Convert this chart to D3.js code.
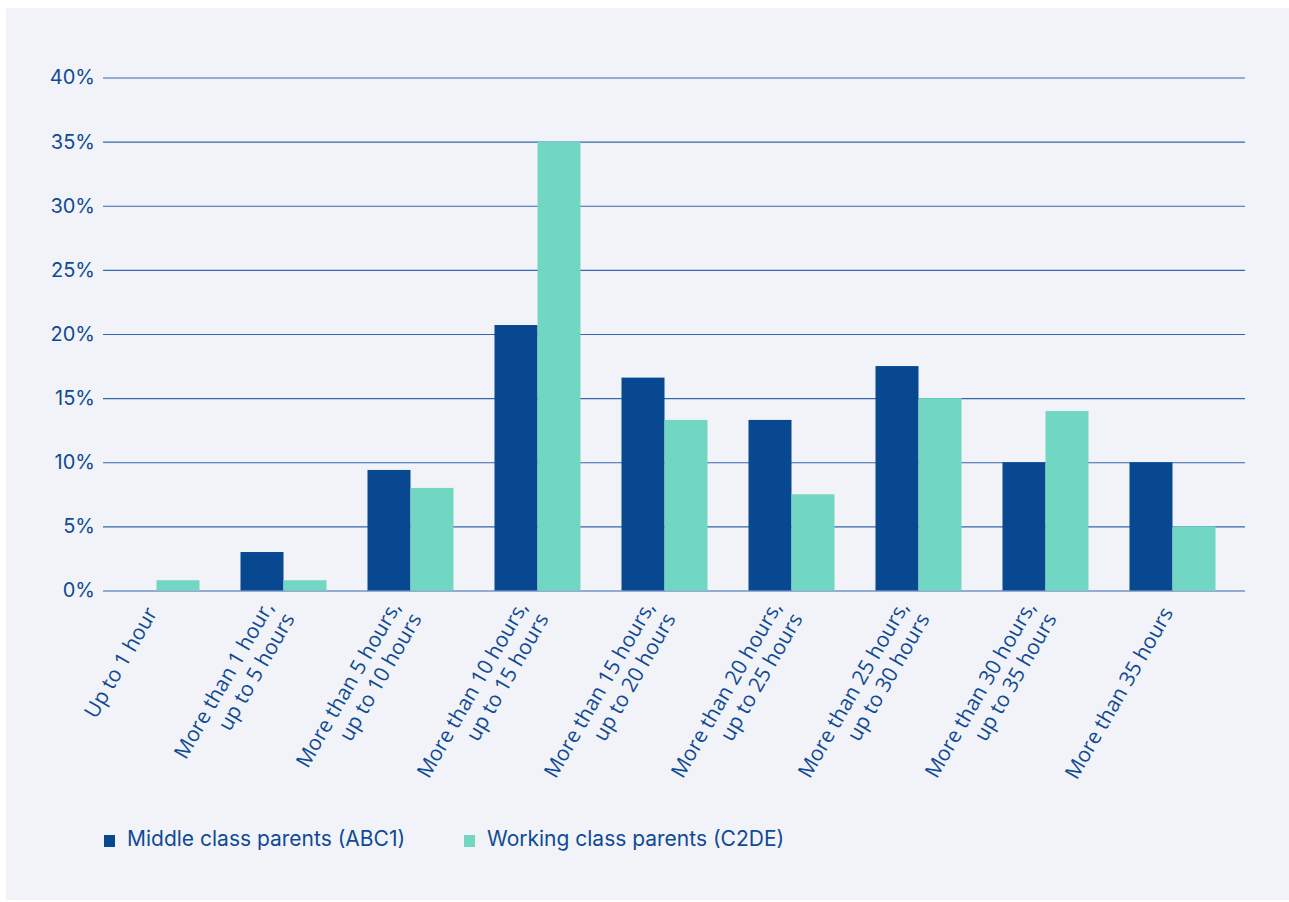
<!DOCTYPE html>
<html>
<head>
<meta charset="utf-8">
<script src="https://d3js.org/d3.v7.min.js"></script>
<style>
  body { margin: 0; background: #ffffff; }
  text { fill: #0f4a95; }
</style>
</head>
<body>
<div id="chart"></div>
<script>

// data
var categories = [
    "Up to 1 hour",
    "More than 1 hour, up to 5 hours",
    "More than 5 hours, up to 10 hours",
    "More than 10 hours, up to 15 hours",
    "More than 15 hours, up to 20 hours",
    "More than 20 hours, up to 25 hours",
    "More than 25 hours, up to 30 hours",
    "More than 30 hours, up to 35 hours",
    "More than 35 hours"
];
var seriesNames = ["Middle class parents (ABC1)", "Working class parents (C2DE)"];
var middleClass = [0, 3.0, 9.4, 20.7, 16.6, 13.3, 17.5, 10.0, 10.0];
var workingClass = [0.8, 0.8, 8.0, 35.0, 13.3, 7.5, 15.0, 14.0, 5.0];
var yTicks = [0, 5, 10, 15, 20, 25, 30, 35, 40];

var colors = ["#074891", "#72d7c2"];

// set the dimensions
var width = 1289, height = 902;
var plotLeft = 103, plotRight = 1245, plotTop = 77.5, plotBottom = 590.5;

var svg = d3.select("#chart")
    .append("svg")
    .attr("width", width)
    .attr("height", height);

// panel background
svg.append("rect")
    .attr("x", 6)
    .attr("y", 8)
    .attr("width", 1283)
    .attr("height", 892)
    .attr("fill", "#f2f3f8");

// scales
var x0 = d3.scaleBand()
    .domain(categories)
    .range([93, 1236])
    .paddingInner(0.3228)
    .paddingOuter(0.1614);

var x1 = d3.scaleBand()
    .domain(seriesNames)
    .range([0, x0.bandwidth()]);

var y = d3.scaleLinear()
    .domain([0, 40])
    .range([plotBottom, plotTop]);

// Y axis with gridlines
var yAxis = svg.append("g")
    .attr("transform", "translate(" + plotLeft + ",0)")
    .call(d3.axisLeft(y)
        .tickValues(yTicks)
        .tickSize(-(plotRight - plotLeft))
        .tickPadding(8)
        .tickFormat(function (d) { return d + "%"; }));

yAxis.select(".domain").remove();
yAxis.selectAll("line")
    .attr("stroke", "#3566aa")
    .attr("stroke-width", 1.2);
yAxis.selectAll("text")
    .attr("fill", "#0f4a95")
    .style("font-family", "Inter, sans-serif")
    .style("font-size", "20px");

// bars
var rows = categories.map(function (c, i) {
    return { cat: c, values: [middleClass[i], workingClass[i]] };
});

var groups = svg.append("g")
    .selectAll("g")
    .data(rows)
    .enter()
    .append("g")
    .attr("transform", function (d) { return "translate(" + x0(d.cat) + ",0)"; });

groups.selectAll("rect")
    .data(function (d) {
        return seriesNames.map(function (k, j) { return { key: k, value: d.values[j], idx: j }; });
    })
    .enter()
    .append("rect")
    .attr("x", function (d) { return x1(d.key); })
    .attr("y", function (d) { return y(d.value); })
    .attr("width", x1.bandwidth())
    .attr("height", function (d) { return y(0) - y(d.value); })
    .attr("fill", function (d) { return colors[d.idx]; });

// X labels, rotated, right aligned lines
var lineHeight = 24;
var labels = svg.append("g")
    .selectAll("g")
    .data(categories)
    .enter()
    .append("g")
    .attr("transform", function (d) {
        return "translate(" + (x0(d) + x0.bandwidth() / 2 - 5) + ",609) rotate(-60)";
    });

labels.append("text")
    .attr("text-anchor", "end")
    .style("font-family", "'Open Sans', sans-serif")
    .style("font-size", "21px")
    .each(function (d) {
        var parts = d.split(", ");
        var lines = parts.length > 1 ? [parts[0] + ",", parts[1]] : parts;
        var t = d3.select(this);
        lines.forEach(function (ln, k) {
            t.append("tspan")
                .attr("x", 0)
                .attr("y", (k - (lines.length - 1) / 2) * lineHeight)
                .attr("dy", "0.35em")
                .text(ln);
        });
    });

// legend
var legend = svg.selectAll(".legend")
    .data(seriesNames)
    .enter()
    .append("g")
    .attr("class", "legend")
    .attr("transform", function (d, i) {
        return "translate(" + (104 + i * 360) + ",835)";
    });

legend.append("rect")
    .attr("width", 11)
    .attr("height", 12)
    .attr("fill", function (d, i) { return colors[i]; });

legend.append("text")
    .attr("x", 23)
    .attr("y", 11)
    .style("font-family", "Inter, sans-serif")
    .style("font-size", "21px")
    .text(function (d) { return d; });

</script>
</body>
</html>
